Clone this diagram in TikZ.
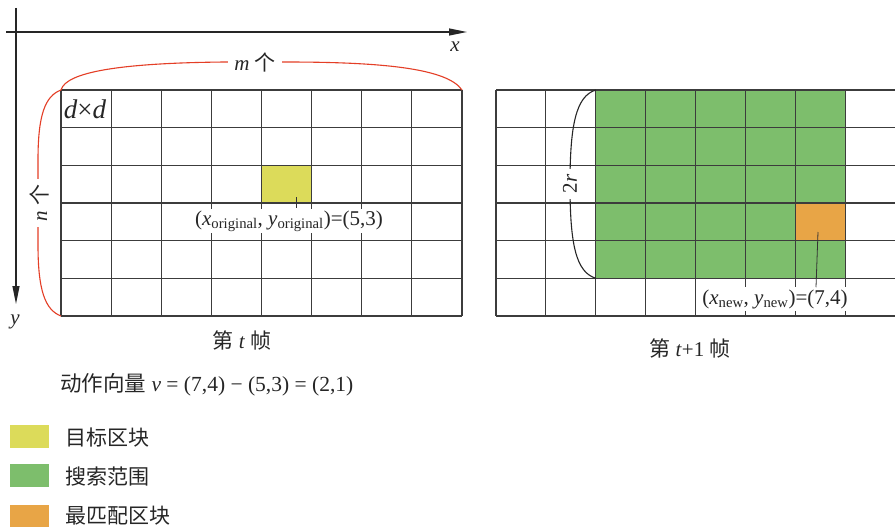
\documentclass[tikz,border=0pt]{standalone}
\usepackage{fontspec}
\setmainfont{Liberation Serif}
\newfontfamily\cjk{Noto Sans CJK SC}
\usetikzlibrary{arrows.meta}
\definecolor{gridgray}{RGB}{60,60,60}
\definecolor{tgtyellow}{RGB}{220,219,90}
\definecolor{srchgreen}{RGB}{125,190,108}
\definecolor{bestorange}{RGB}{232,165,70}
\definecolor{bracered}{RGB}{228,62,38}
\begin{document}
\begin{tikzpicture}[x=1pt,y=-1pt,
  gridl/.style={draw=gridgray,line width=1.1pt},
  axisl/.style={draw=black!85,line width=1.2pt,-{Triangle[length=18pt,width=7pt]}},
  redbrace/.style={draw=bracered,line width=1.1pt},
  blkbrace/.style={draw=black!85,line width=1.1pt},
  ptr/.style={draw=black!80,line width=0.8pt},
  txt/.style={font=\fontsize{21}{24}\selectfont,inner sep=1pt,text=black!85},
  whitelbl/.style={txt,fill=white,inner sep=2pt},
  legendbox/.style={draw=none,minimum width=39pt,minimum height=23pt,inner sep=0pt}]
\useasboundingbox (0,0) rectangle (895,527);
\fill[white] (0,0) rectangle (895,527);

% ---------- left frame (t) ----------
\fill[tgtyellow] (261.5,165.3) rectangle (311.6,203);
\foreach \i in {0,...,8} \draw[gridl] ({61+\i*50.125},90) -- ({61+\i*50.125},316);
\foreach \j in {0,...,6} \draw[gridl] (61,{90+\j*37.67}) -- (462,{90+\j*37.67});

% axes
\draw[axisl] (6,32) -- (467,32);
\draw[axisl] (16,8) -- (16,304);
\node[txt,font=\fontsize{21}{22}\selectfont\itshape] (xlab) at (455,47) {x};
\node[txt,font=\fontsize{21}{22}\selectfont\itshape] (ylab) at (15,322) {y};

% red braces
\coordinate (tl) at (61,90);
\coordinate (tr) at (462,90);
\coordinate (bl) at (61,316);
\draw[redbrace] (tl) .. controls (66,72) and (120,63) .. (225,62) -- (285,62) .. controls (380,62) and (447,68) .. (tr);
\draw[redbrace] (tl) .. controls (45,96) and (38,115) .. (38,160) -- (38,245) .. controls (38,290) and (45,310) .. (bl);
\node[whitelbl,inner xsep=6pt] (mlab) at (255,62) {\textit{m} {\cjk 个}};
\node[whitelbl,rotate=90,inner xsep=6pt] (nlab) at (39,203) {\textit{n} {\cjk 个}};

\node[txt,font=\fontsize{27}{28}\selectfont] (dd) at (85,109) {\textit{d}×\textit{d}};

% original block label
\coordinate (yptr) at (296,197);
\node[whitelbl] (lbl1) at (289,221) {(\textit{x}\textsubscript{original}, \textit{y}\textsubscript{original})=(5,3)};
\draw[ptr] (yptr) -- (yptr |- lbl1.north);

\node[txt] (cap1) at (242,340) {{\cjk 第} \textit{t} {\cjk 帧}};

% ---------- right frame (t+1) ----------
\fill[srchgreen] (595.8,90) rectangle (845.3,278.3);
\fill[bestorange] (795.4,203) rectangle (845.3,240.7);
\foreach \i in {0,...,7} \draw[gridl] ({496+\i*49.9},90) -- ({496+\i*49.9},316);
\foreach \j in {0,...,6} \draw[gridl] (496,{90+\j*37.67}) -- (895,{90+\j*37.67});

\coordinate (gtl) at (595.8,90);
\coordinate (gbl) at (595.8,278.3);
\draw[blkbrace] (gtl) .. controls (576,96) and (570,125) .. (570,184) .. controls (570,245) and (576,272) .. (gbl);
\node[whitelbl,rotate=90,inner xsep=6pt] (rlab) at (570,184) {2\textit{r}};

\coordinate (optr) at (818,232);
\node[whitelbl] (lbl2) at (775,299) {(\textit{x}\textsubscript{new}, \textit{y}\textsubscript{new})=(7,4)};
\draw[ptr] (optr) -- (816,0 |- lbl2.north);

\node[txt] (cap2) at (690,348) {{\cjk 第} \textit{t}+1 {\cjk 帧}};

% ---------- motion vector ----------
\node[txt,anchor=west,font=\fontsize{21.5}{24}\selectfont] (mv) at (59,385) {{\cjk 动作向量} \textit{v} = (7,4) − (5,3) = (2,1)};

% ---------- legend ----------
\node[legendbox,fill=tgtyellow,anchor=north west] (lg1) at (10,425) {};
\node[legendbox,fill=srchgreen,anchor=north west] (lg2) at (10,464) {};
\node[legendbox,fill=bestorange,anchor=north west] (lg3) at (10,505) {};
\node[txt,anchor=west,font=\fontsize{21}{24}\selectfont\cjk] (lt1) at (64,438) {目标区块};
\node[txt,anchor=west,font=\fontsize{21}{24}\selectfont\cjk] (lt2) at (64,477) {搜索范围};
\node[txt,anchor=west,font=\fontsize{21}{24}\selectfont\cjk] (lt3) at (64,516) {最匹配区块};
\end{tikzpicture}
\end{document}
